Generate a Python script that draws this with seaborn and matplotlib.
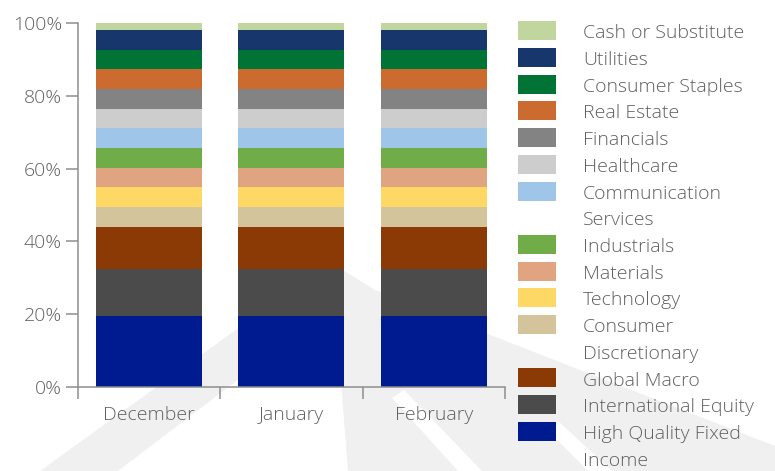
import matplotlib
matplotlib.use("Agg")
import matplotlib.pyplot as plt
from matplotlib.patches import Polygon, Rectangle
import numpy as np
import pandas as pd
import seaborn as sns

# Portfolio allocation by month (percent of total), bottom segment first
months = ["December", "January", "February"]
series_names = [
    "High Quality Fixed\nIncome",
    "International Equity",
    "Global Macro",
    "Consumer\nDiscretionary",
    "Technology",
    "Materials",
    "Industrials",
    "Communication\nServices",
    "Healthcare",
    "Financials",
    "Real Estate",
    "Consumer Staples",
    "Utilities",
    "Cash or Substitute",
]
high_quality_fixed_income = [19.5, 19.5, 19.5]
international_equity = [12.8, 12.8, 12.8]
global_macro = [11.7, 11.7, 11.7]
consumer_discretionary = [5.5, 5.5, 5.5]
technology = [5.5, 5.5, 5.5]
materials = [5.2, 5.2, 5.2]
industrials = [5.5, 5.5, 5.5]
communication_services = [5.5, 5.5, 5.5]
healthcare = [5.2, 5.2, 5.2]
financials = [5.5, 5.5, 5.5]
real_estate = [5.5, 5.5, 5.5]
consumer_staples = [5.3, 5.3, 5.3]
utilities = [5.5, 5.5, 5.5]
cash_or_substitute = [1.8, 1.8, 1.8]

series_values = [
    high_quality_fixed_income, international_equity, global_macro,
    consumer_discretionary, technology, materials, industrials,
    communication_services, healthcare, financials, real_estate,
    consumer_staples, utilities, cash_or_substitute,
]
colors = [
    "#001A8F", "#4B4B4B", "#8B3A06", "#D3C49C", "#FDD865", "#E0A480",
    "#70AC48", "#9FC5E8", "#CDCDCD", "#838383", "#CC6B2F", "#017435",
    "#17366B", "#C0D69E",
]
y_ticks = [0, 20, 40, 60, 80, 100]
y_tick_labels = ["0%", "20%", "40%", "60%", "80%", "100%"]

W, H = 775, 471
FONT = "Open Sans"
TEXT_COLOR = "#606060"
AXIS_COLOR = "#8C8C8C"
PT = 72 / 100  # points per pixel at 100 dpi

sns.set_theme(style="white")
plt.rcParams["font.family"] = [FONT, "DejaVu Sans"]

fig = plt.figure(figsize=(W / 100, H / 100), dpi=100)
fig.patch.set_facecolor("white")


def px(x, y):
    return (x / W, 1 - y / H)


def backdrop(points, color):
    fig.patches.append(Polygon([px(*p) for p in points], closed=True,
                               transform=fig.transFigure, facecolor=color,
                               edgecolor="none", zorder=-2))


# faint mountain watermark behind everything
backdrop([(40, 471), (330, 262), (375, 290), (775, 446), (775, 471)], "#F0F0F0")
backdrop([(118, 471), (335, 306), (348, 471)], "white")
backdrop([(392, 398), (404, 390), (482, 471), (458, 471)], "white")
backdrop([(545, 428), (558, 421), (612, 471), (588, 471)], "white")

ax = fig.add_axes([77.5 / W, 1 - 386.7 / H, (505 - 77.5) / W, (386.7 - 23.3) / H])
ax.patch.set_alpha(0)

df = pd.DataFrame({"month": months})
bottom = np.zeros(len(months))
for name, vals, col in zip(series_names, series_values, colors):
    df["value"] = vals
    sns.barplot(data=df, x="month", y="value", color=col, width=0.745,
                bottom=bottom, saturation=1, ax=ax, linewidth=0, zorder=2)
    bottom = bottom + np.asarray(vals)

ax.set_xlim(-0.5, 2.5)
ax.set_ylim(0, 100)
ax.set_xlabel("")
ax.set_ylabel("")

# category separators as major ticks, month names on minor ticks
ax.set_xticks([-0.5, 0.5, 1.5, 2.5])
ax.set_xticklabels([])
ax.set_xticks([0, 1, 2], minor=True)
ax.set_xticklabels(months, minor=True)
ax.tick_params(axis="x", which="major", direction="out", length=12 * PT,
               width=1.5 * PT, color=AXIS_COLOR, bottom=True)
ax.tick_params(axis="x", which="minor", length=0, pad=14,
               labelsize=14, labelcolor=TEXT_COLOR)

ax.set_yticks(y_ticks)
ax.set_yticklabels(y_tick_labels)
ax.tick_params(axis="y", direction="out", length=12 * PT, width=1.5 * PT,
               color=AXIS_COLOR, left=True, pad=3.5 * PT, labelsize=14,
               labelcolor=TEXT_COLOR)

for side in ["top", "right"]:
    ax.spines[side].set_visible(False)
for side in ["left", "bottom"]:
    ax.spines[side].set_color(AXIS_COLOR)
    ax.spines[side].set_linewidth(1.5 * PT)

for lab in ax.get_xticklabels(minor=True) + ax.get_yticklabels():
    lab.set_fontweight("light")

# legend: top entry first, multi-line labels take extra rows
row0, pitch = 30.8, 26.7
row = 0
for name, col in reversed(list(zip(series_names, colors))):
    cy = row0 + pitch * row
    x0, y0 = px(518, cy + 9.5)
    fig.patches.append(Rectangle((x0, y0), 38 / W, 19 / H,
                                 transform=fig.transFigure, facecolor=col,
                                 edgecolor="none", zorder=3))
    lines = name.split("\n")
    for i, line in enumerate(lines):
        tx, ty = px(583, cy + 7.6 + pitch * i)
        fig.text(tx, ty, line, ha="left", va="baseline", fontsize=14,
                 fontweight="light", color=TEXT_COLOR, zorder=3)
    row += len(lines)

fig.savefig("out.png", dpi=100, facecolor="white")
